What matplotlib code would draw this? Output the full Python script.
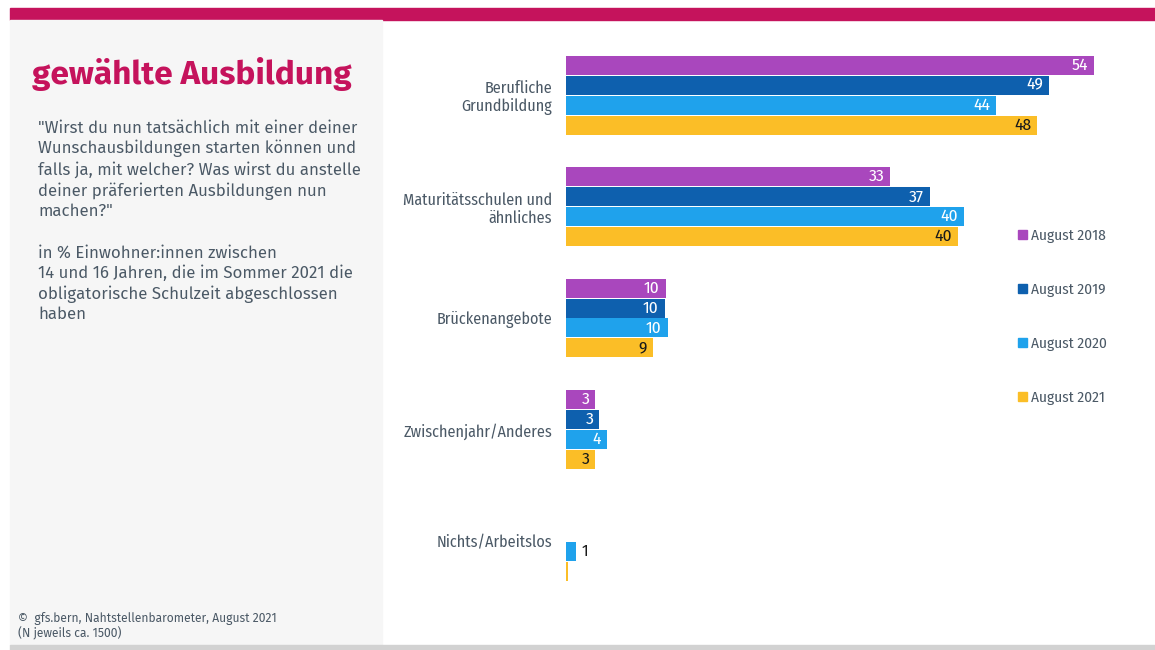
import matplotlib.pyplot as plt
import numpy as np
from matplotlib.patches import Rectangle, Patch

# data
categories = ['Berufliche\nGrundbildung', 'Maturitätsschulen und\nähnliches', 'Brückenangebote',
              'Zwischenjahr/Anderes', 'Nichts/Arbeitslos']
series = ['August 2018', 'August 2019', 'August 2020', 'August 2021']
values = {
    'August 2018': [54.0, 33.2, 10.2, 3.0, np.nan],
    'August 2019': [49.4, 37.2, 10.1, 3.4, np.nan],
    'August 2020': [44.0, 40.7, 10.4, 4.2, 1.05],
    'August 2021': [48.2, 40.1, 8.9, 3.0, 0.2],
}
labels = {
    'August 2018': ['54', '33', '10', '3', ''],
    'August 2019': ['49', '37', '10', '3', ''],
    'August 2020': ['44', '40', '10', '4', '1'],
    'August 2021': ['48', '40', '9', '3', ''],
}
colors = ['#a947bd', '#0e60ae', '#1fa2ec', '#fbbe27']
text_colors = ['white', 'white', 'white', '#1a1a1a']

W, H = 1155, 650
fig = plt.figure(figsize=(W / 100, H / 100), dpi=100)

def fx(px):
    return px / W

def fy(py):
    return 1 - py / H

# background decorations
fig.patches.append(Rectangle((fx(10), fy(20)), fx(1145), 12 / H, transform=fig.transFigure,
                             color='#c5135c', zorder=0))
fig.patches.append(Rectangle((fx(10), fy(645)), fx(372), 625 / H, transform=fig.transFigure,
                             color='#f6f6f6', zorder=0))
fig.patches.append(Rectangle((fx(10), 0), fx(1145), 5 / H, transform=fig.transFigure,
                             color='#d2d2d2', zorder=0))

body_font = ['Fira Sans', 'Noto Sans', 'DejaVu Sans']
label_font = ['Fira Sans Condensed', 'Roboto Condensed', 'Roboto', 'DejaVu Sans']
grey = '#4b5966'

fig.text(fx(32), fy(84), 'gewählte Ausbildung', fontsize=24, fontweight='bold',
         color='#c5135c', family=body_font, va='baseline')

question = ('"Wirst du nun tatsächlich mit einer deiner\nWunschausbildungen starten können und\n'
            'falls ja, mit welcher? Was wirst du anstelle\ndeiner präferierten Ausbildungen nun\nmachen?"')
basis = ('in % Einwohner:innen zwischen\n14 und 16 Jahren, die im Sommer 2021 die\n'
         'obligatorische Schulzeit abgeschlossen\nhaben')
fig.text(fx(38), fy(120), question, fontsize=12.1, color=grey, family=body_font,
         va='top', linespacing=1.29)
fig.text(fx(38), fy(245), basis, fontsize=12.1, color=grey, family=body_font,
         va='top', linespacing=1.29)
fig.text(fx(18), fy(640), '©  gfs.bern, Nahtstellenbarometer, August 2021\n(N jeweils ca. 1500)',
         fontsize=8.7, color=grey, family=body_font, va='bottom', linespacing=1.1)

# bar chart
h = 20 / 111.5
top, bottom = 55, 581
ax = fig.add_axes([fx(566), fy(bottom), (1093.7 - 566) / W, (bottom - top) / H])
ax.set_xlim(0, 54)
ax.set_ylim(len(categories) - 1 + 2 * h, -2 * h)

y = np.arange(len(categories))
handles = []
for i, s in enumerate(series):
    vals = np.array(values[s], dtype=float)
    pos = y + (i - 1.5) * h
    bars = ax.barh(pos, vals, height=h * 0.95, color=colors[i], linewidth=0,
                   clip_on=False)
    handles.append(Patch(color=colors[i], label=s))
    for b, v, lab in zip(bars, vals, labels[s]):
        if not lab:
            continue
        if v >= 2:
            ax.text(v - 0.6, b.get_y() + b.get_height() / 2, lab, ha='right', va='center',
                    color=text_colors[i], fontsize=12.5, family=label_font)
        else:
            ax.text(v + 0.6, b.get_y() + b.get_height() / 2, lab, ha='left', va='center',
                    color='#1a1a1a', fontsize=12.5, family=label_font)

ax.set_yticks(y)
ax.set_yticklabels(categories, fontsize=11.6, color=grey, family=label_font, ha='right',
                   linespacing=1.15)
ax.tick_params(axis='y', length=0, pad=10)
ax.set_xticks([])
for sp in ax.spines.values():
    sp.set_visible(False)
ax.patch.set_alpha(0)

fig.legend(handles=handles, loc='upper left', bbox_to_anchor=(fx(1010), fy(221)),
           frameon=False, labelspacing=2.6, handlelength=0.6,
           handleheight=0.6, handletextpad=0.3, borderpad=0, labelcolor=grey,
           prop={'family': label_font, 'size': 11})

fig.savefig('out.png', dpi=100)
